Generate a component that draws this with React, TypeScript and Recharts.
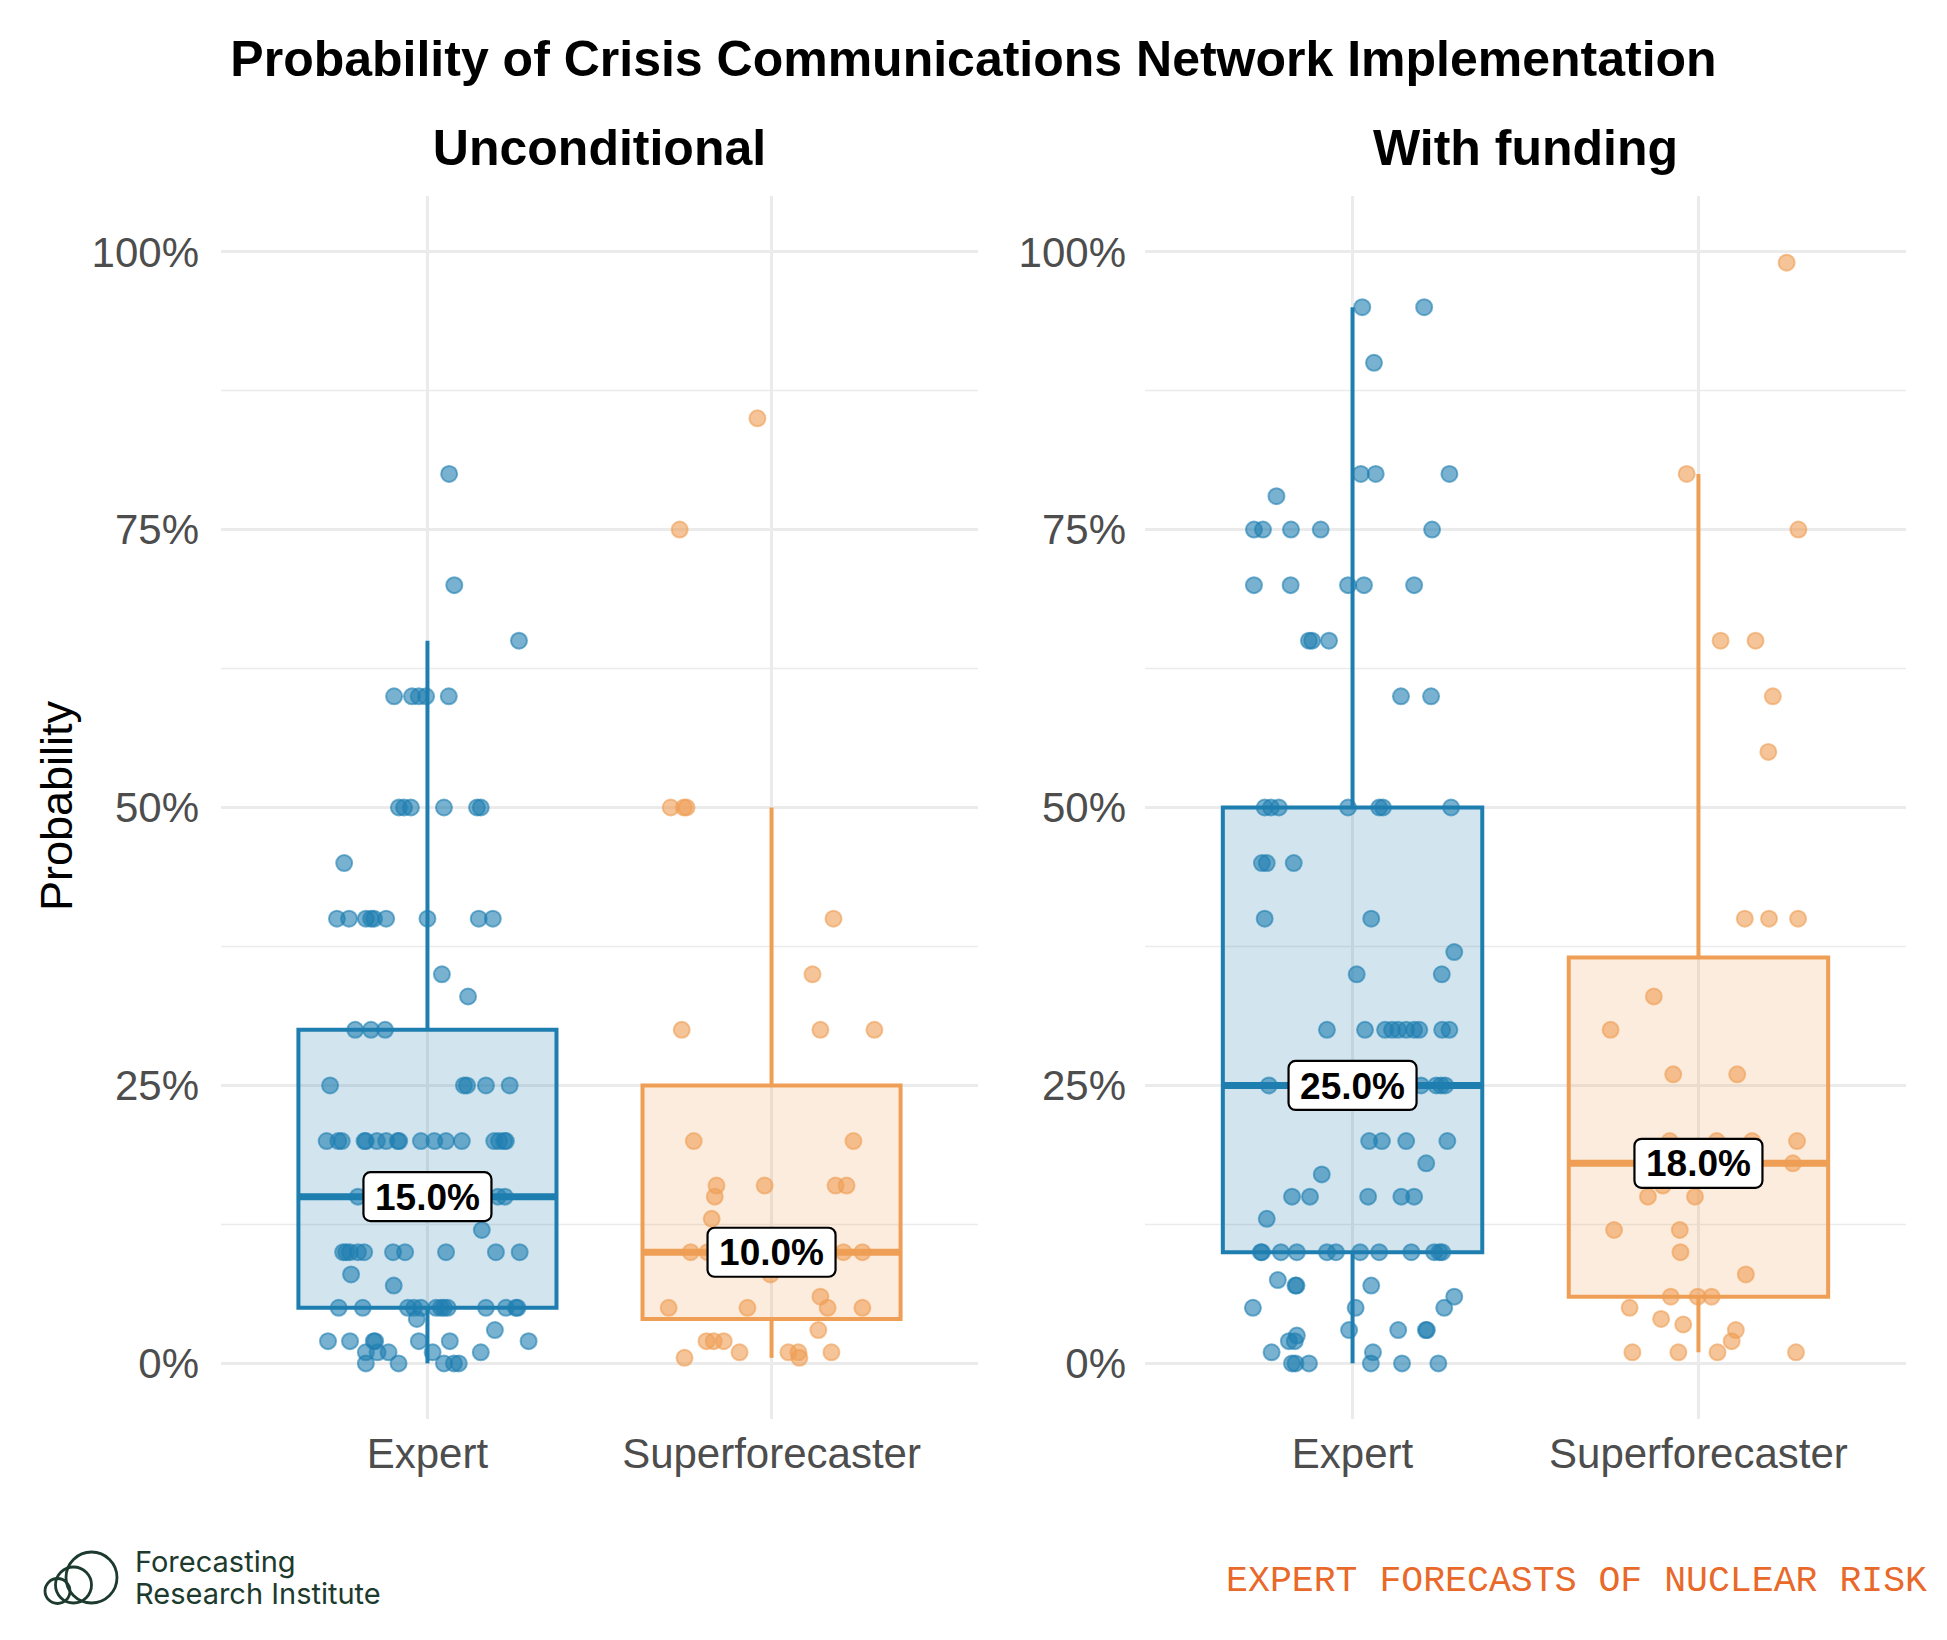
import React from 'react';
import {
  ScatterChart,
  Scatter,
  XAxis,
  YAxis,
  CartesianGrid,
  ReferenceArea,
  ReferenceLine,
  ReferenceDot,
} from 'recharts';

// ---- data ---------------------------------------------------------------

const categories = ['Expert', 'Superforecaster'];
const panelTitles = ['Unconditional', 'With funding'];
const yTicks = [0, 25, 50, 75, 100];
const yMinorTicks = [12.5, 37.5, 62.5, 87.5];

// Individual forecasts (%) and their horizontal jitter (in category units)
const uncExpertValues = [
  80, 70, 65,
  60, 60, 60, 60, 60,
  50, 50, 50, 50, 50, 50,
  45, 35, 33,
  40, 40, 40, 40, 40, 40, 40, 40, 40,
  30, 30, 30,
  25, 25, 25, 25, 25,
  20, 20, 20, 20, 20, 20, 20, 20, 20, 20, 20, 20, 20, 20, 20, 20, 20,
  15, 15, 15, 15, 15, 15,
  12, 8, 7, 4, 3,
  10, 10, 10, 10, 10, 10, 10, 10, 10, 10,
  5, 5, 5, 5, 5, 5, 5, 5, 5, 5, 5, 5, 5,
  2, 2, 2, 2, 2, 2, 2,
  1, 1, 1, 1, 1,
  0, 0, 0, 0, 0,
];
const uncExpertJitter = [
  0.063, 0.078, 0.266,
  -0.097, -0.045, -0.025, -0.004, 0.062,
  -0.083, -0.068, -0.048, 0.048, 0.144, 0.155,
  -0.242, 0.042, 0.118,
  -0.263, -0.228, -0.179, -0.164, -0.155, -0.12, 0, 0.149, 0.19,
  -0.21, -0.164, -0.123,
  -0.283, 0.106, 0.115, 0.17, 0.239,
  -0.293, -0.259, -0.249, -0.183, -0.179, -0.147, -0.12, -0.086, -0.082, -0.019, 0.02, 0.054, 0.1, 0.194, 0.208, 0.223, 0.228,
  -0.202, -0.11, -0.03, 0.06, 0.205, 0.225,
  0.158, -0.222, -0.098, -0.031, 0.196,
  -0.245, -0.236, -0.225, -0.202, -0.184, -0.1, -0.065, 0.054, 0.199, 0.268,
  -0.258, -0.188, -0.057, -0.039, -0.019, 0.025, 0.039, 0.048, 0.059, 0.17, 0.228, 0.257, 0.262,
  -0.289, -0.225, -0.156, -0.152, -0.025, 0.065, 0.294,
  -0.179, -0.145, -0.113, 0.015, 0.155,
  -0.179, -0.084, 0.048, 0.077, 0.091,
];

const uncSuperValues = [
  85, 75, 40, 35,
  50, 50, 50,
  30, 30, 30,
  20, 20,
  16, 16, 16, 16,
  15, 13, 8, 6, 3,
  10, 10, 10, 10,
  5, 5, 5, 5,
  2, 2, 2,
  1, 1, 1, 1,
  0.5, 0.5,
];
const uncSuperJitter = [
  -0.041, -0.267, 0.18, 0.119,
  -0.293, -0.255, -0.247,
  -0.261, 0.142, 0.299,
  -0.226, 0.238,
  -0.16, -0.02, 0.186, 0.218,
  -0.165, -0.174, -0.003, 0.142, 0.136,
  -0.235, -0.186, 0.209, 0.264,
  -0.299, -0.07, 0.163, 0.264,
  -0.189, -0.168, -0.139,
  -0.093, 0.049, 0.078, 0.174,
  -0.253, 0.081,
];

const fundExpertValues = [
  95, 95, 90,
  80, 80, 80, 78,
  75, 75, 75, 75, 75,
  70, 70, 70, 70, 70,
  65, 65, 65,
  60, 60,
  50, 50, 50, 50, 50, 50, 50,
  45, 45, 45,
  40, 40,
  37, 35, 35,
  30, 30, 30, 30, 30, 30, 30, 30, 30, 30,
  25, 25, 25, 25, 25, 25, 25,
  20, 20, 20, 20,
  18, 17, 13,
  15, 15, 15, 15, 15,
  10, 10, 10, 10, 10, 10, 10, 10, 10, 10, 10, 10,
  7.5, 7, 7, 7, 6,
  5, 5, 5,
  3, 3, 3, 3,
  2.5, 2, 2,
  1, 1,
  0, 0, 0, 0, 0, 0,
];
const fundExpertJitter = [
  0.028, 0.207, 0.062,
  0.024, 0.067, 0.28, -0.22,
  -0.285, -0.259, -0.178, -0.092, 0.23,
  -0.285, -0.179, -0.013, 0.033, 0.178,
  -0.126, -0.117, -0.068,
  0.14, 0.227,
  -0.254, -0.236, -0.213, -0.013, 0.077, 0.088, 0.285,
  -0.262, -0.248, -0.17,
  -0.254, 0.054,
  0.294, 0.012, 0.258,
  -0.074, 0.036, 0.094, 0.114, 0.132, 0.155, 0.178, 0.193, 0.259, 0.28,
  -0.242, -0.12, 0.05, 0.198, 0.242, 0.256, 0.268,
  0.048, 0.085, 0.155, 0.274,
  0.213, -0.089, -0.248,
  -0.175, -0.123, 0.045, 0.141, 0.178,
  -0.265, -0.262, -0.207, -0.161, -0.074, -0.048, 0.022, 0.077, 0.17, 0.236, 0.251, 0.259,
  -0.216, -0.165, -0.162, 0.054, 0.294,
  -0.288, 0.009, 0.265,
  -0.01, 0.132, 0.212, 0.215,
  -0.161, -0.184, -0.167,
  -0.234, 0.059,
  -0.175, -0.165, -0.126, 0.053, 0.143, 0.248,
];

const fundSuperValues = [
  99, 80, 75,
  65, 65,
  60, 55,
  40, 40, 40,
  33, 30,
  26, 26,
  20, 20, 20, 20,
  18, 16,
  15, 15,
  12, 12,
  10, 8,
  6, 6, 6,
  5, 4, 3.5, 3, 2,
  1, 1, 1, 1,
];
const fundSuperJitter = [
  0.255, -0.034, 0.289,
  0.064, 0.165,
  0.215, 0.202,
  0.134, 0.204, 0.288,
  -0.129, -0.254,
  -0.073, 0.112,
  -0.083, 0.053, 0.155, 0.285,
  0.273, -0.103,
  -0.146, -0.01,
  -0.244, -0.054,
  -0.052, 0.137,
  -0.08, -0.002, 0.038,
  -0.199, -0.108, -0.044, 0.108, 0.096,
  -0.191, -0.058, 0.055, 0.282,
];

// Box summaries: [lower whisker, Q1, median, Q3, upper whisker]
const uncExpertBox = [0, 5, 15, 30, 65];
const uncSuperBox = [0.5, 4, 10, 25, 50];
const fundExpertBox = [0, 10, 25, 50, 95];
const fundSuperBox = [1, 6, 18, 36.5, 80];

// ---- styling ------------------------------------------------------------

const BLUE = '#1F7EB0';
const ORANGE = '#EE9F55';
const GRID = '#EBEBEB';
const AXIS_TEXT = '#4D4D4D';
const FONT = '"Liberation Sans", Arial, Helvetica, sans-serif';
const BOX_HALF = 0.375;

type Group = {
  pos: number;
  color: string;
  values: number[];
  jitter: number[];
  box: number[];
};

const makePoints = (g: Group) =>
  g.values.map((v, i) => ({ x: g.pos + g.jitter[i], y: v }));

const panels: Group[][] = [
  [
    { pos: 1, color: BLUE, values: uncExpertValues, jitter: uncExpertJitter, box: uncExpertBox },
    { pos: 2, color: ORANGE, values: uncSuperValues, jitter: uncSuperJitter, box: uncSuperBox },
  ],
  [
    { pos: 1, color: BLUE, values: fundExpertValues, jitter: fundExpertJitter, box: fundExpertBox },
    { pos: 2, color: ORANGE, values: fundSuperValues, jitter: fundSuperJitter, box: fundSuperBox },
  ],
];

const MedianLabel = (props: any) => {
  const { cx, cy, text } = props;
  if (cx == null || cy == null) return <g />;
  return (
    <g>
      <rect
        x={cx - 64}
        y={cy - 24.5}
        width={128}
        height={49}
        rx={7}
        ry={7}
        fill="#FFFFFF"
        stroke="#000000"
        strokeWidth={2.2}
      />
      <text
        x={cx}
        y={cy}
        dy="0.355em"
        textAnchor="middle"
        fontSize={37}
        fontWeight="bold"
        fill="#000000"
        fontFamily={FONT}
      >
        {text}
      </text>
    </g>
  );
};

type PanelProps = {
  groups: Group[];
  width: number;
  margin: { top: number; right: number; bottom: number; left: number };
  yAxisWidth: number;
  yTickMargin: number;
};

const Panel = ({ groups, width, margin, yAxisWidth, yTickMargin }: PanelProps) => (
  <ScatterChart width={width} height={1500} margin={margin}>
    <CartesianGrid
      horizontalValues={yTicks}
      verticalValues={[1, 2]}
      stroke={GRID}
      strokeWidth={3}
    />
    <CartesianGrid
      horizontalValues={yMinorTicks}
      vertical={false}
      stroke={GRID}
      strokeWidth={1.6}
    />
    <XAxis
      type="number"
      dataKey="x"
      domain={[0.4, 2.6]}
      ticks={[1, 2]}
      interval={0}
      allowDataOverflow
      tickFormatter={(v: number) => categories[Math.round(v) - 1]}
      axisLine={false}
      tickLine={false}
      tickSize={8}
      tickMargin={11}
      height={60}
      tick={{ fill: AXIS_TEXT, fontSize: 42, fontFamily: FONT }}
    />
    <YAxis
      type="number"
      dataKey="y"
      domain={[-5, 105]}
      ticks={yTicks}
      interval={0}
      allowDataOverflow
      tickFormatter={(v: number) => `${v}%`}
      axisLine={false}
      tickLine={false}
      tickSize={8}
      tickMargin={yTickMargin}
      width={yAxisWidth}
      tick={{ fill: AXIS_TEXT, fontSize: 42, fontFamily: FONT }}
    />

    {groups.map((g) => (
      <ReferenceArea
        key={`box-${g.pos}`}
        x1={g.pos - BOX_HALF}
        x2={g.pos + BOX_HALF}
        y1={g.box[1]}
        y2={g.box[3]}
        fill={g.color}
        fillOpacity={0.2}
        stroke={g.color}
        strokeWidth={4}
        ifOverflow="visible"
        zIndex={100}
      />
    ))}
    {groups.map((g) => (
      <ReferenceLine
        key={`wu-${g.pos}`}
        segment={[{ x: g.pos, y: g.box[3] }, { x: g.pos, y: g.box[4] }]}
        stroke={g.color}
        strokeWidth={4}
        ifOverflow="visible"
        zIndex={150}
      />
    ))}
    {groups.map((g) => (
      <ReferenceLine
        key={`wl-${g.pos}`}
        segment={[{ x: g.pos, y: g.box[0] }, { x: g.pos, y: g.box[1] }]}
        stroke={g.color}
        strokeWidth={4}
        ifOverflow="visible"
        zIndex={150}
      />
    ))}
    {groups.map((g) => (
      <ReferenceLine
        key={`med-${g.pos}`}
        segment={[
          { x: g.pos - BOX_HALF, y: g.box[2] },
          { x: g.pos + BOX_HALF, y: g.box[2] },
        ]}
        stroke={g.color}
        strokeWidth={7}
        ifOverflow="visible"
        zIndex={150}
      />
    ))}

    {groups.map((g) => (
      <Scatter
        key={`pts-${g.pos}`}
        data={makePoints(g)}
        isAnimationActive={false}
        zIndex={600}
        shape={(p: any) => (
          <circle
            cx={p.cx}
            cy={p.cy}
            r={8}
            fill={g.color}
            fillOpacity={0.6}
            stroke={g.color}
            strokeOpacity={0.6}
            strokeWidth={2}
          />
        )}
      />
    ))}

    {groups.map((g) => (
      <ReferenceDot
        key={`lab-${g.pos}`}
        x={g.pos}
        y={g.box[2]}
        r={0}
        ifOverflow="visible"
        zIndex={2000}
        shape={(p: any) => <MedianLabel {...p} text={`${g.box[2].toFixed(1)}%`} />}
      />
    ))}
  </ScatterChart>
);

const LOGO_GREEN = '#1C3A2D';
const LOGO_FONT = 'Inter, "Liberation Sans", sans-serif';

export default function App() {
  return (
    <div
      style={{
        position: 'absolute',
        left: 0,
        top: 0,
        width: 1947,
        height: 1640,
        background: '#FFFFFF',
        fontFamily: FONT,
        overflow: 'hidden',
      }}
    >
      <div style={{ position: 'absolute', left: 0, top: 0 }}>
        <Panel
          groups={panels[0]}
          width={1000}
          margin={{ top: 196, right: 22, bottom: 21, left: 21 }}
          yAxisWidth={200}
          yTickMargin={14}
        />
      </div>
      <div style={{ position: 'absolute', left: 960, top: 0 }}>
        <Panel
          groups={panels[1]}
          width={987}
          margin={{ top: 196, right: 41, bottom: 21, left: 20 }}
          yAxisWidth={165}
          yTickMargin={11}
        />
      </div>

      <svg
        width={1947}
        height={1640}
        style={{ position: 'absolute', left: 0, top: 0, pointerEvents: 'none' }}
      >
        <text
          x={973.5}
          y={76}
          textAnchor="middle"
          fontSize={50}
          fontWeight="bold"
          fill="#000"
          fontFamily={FONT}
        >
          Probability of Crisis Communications Network Implementation
        </text>
        <text x={599.5} y={165} textAnchor="middle" fontSize={50} fontWeight="bold" fill="#000" fontFamily={FONT}>
          {panelTitles[0]}
        </text>
        <text x={1525.5} y={165} textAnchor="middle" fontSize={50} fontWeight="bold" fill="#000" fontFamily={FONT}>
          {panelTitles[1]}
        </text>
        <text
          transform="translate(72, 806) rotate(-90)"
          textAnchor="middle"
          fontSize={45}
          fill="#000"
          fontFamily={FONT}
        >
          Probability
        </text>

        {/* logo */}
        <g fill="none" stroke={LOGO_GREEN} strokeWidth={2.8}>
          <circle cx={57.5} cy={1591} r={12.5} />
          <circle cx={73.5} cy={1585} r={18} />
          <circle cx={91.5} cy={1577.5} r={25.5} />
        </g>
        <text x={135} y={1572} fontSize={29} fill={LOGO_GREEN} fontFamily={LOGO_FONT}>
          Forecasting
        </text>
        <text x={135} y={1604} fontSize={29} fill={LOGO_GREEN} fontFamily={LOGO_FONT}>
          Research Institute
        </text>

        <text
          x={1927}
          y={1591}
          textAnchor="end"
          fontSize={36.5}
          fill="#E8692A"
          fontFamily='"Liberation Mono", "DejaVu Sans Mono", monospace'
        >
          EXPERT FORECASTS OF NUCLEAR RISK
        </text>
      </svg>
    </div>
  );
}
